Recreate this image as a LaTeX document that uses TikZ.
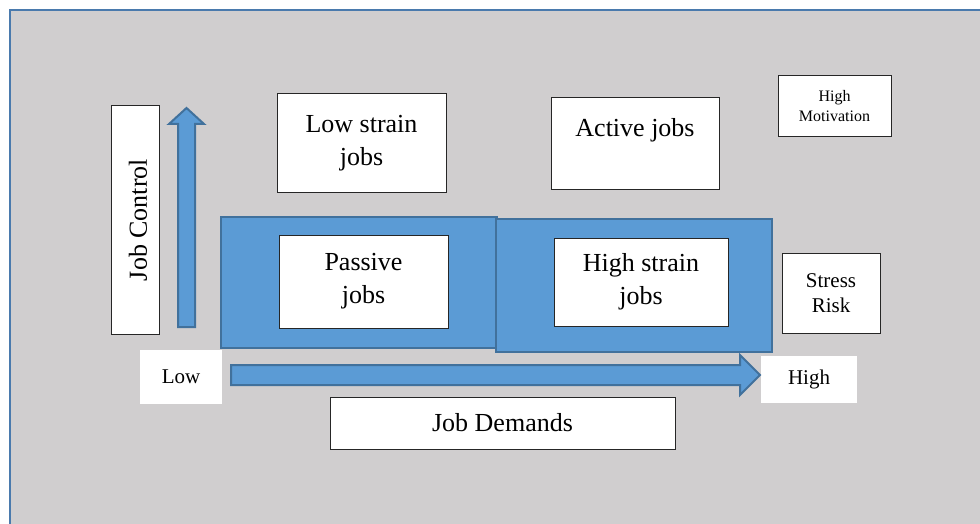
\documentclass[tikz,border=0pt]{standalone}
\usepackage{fontspec}
\setmainfont{Liberation Serif}
\definecolor{bggray}{HTML}{D0CECF}
\definecolor{frameblue}{HTML}{4A7AAD}
\definecolor{fillblue}{HTML}{5B9BD5}
\definecolor{edgeblue}{HTML}{41719C}
\tikzset{
  wbox/.style={draw=black!85, line width=1pt, fill=white, inner sep=0pt, align=center},
  plain/.style={fill=white, inner sep=0pt, align=center},
  bluebox/.style={draw=edgeblue, line width=2pt, fill=fillblue, inner sep=0pt},
  bigtxt/.style={font=\fontsize{26}{33}\selectfont},
  midtxt/.style={font=\fontsize{21}{25}\selectfont},
  smalltxt/.style={font=\fontsize{16}{20}\selectfont},
  blockarrow/.style={draw=edgeblue, line width=2pt, fill=fillblue, line join=miter}
}
\begin{document}
\begin{tikzpicture}[x=1pt,y=-1pt]
\useasboundingbox (0,0) rectangle (980,524);
\fill[white] (0,0) rectangle (980,524);
\fill[bggray] (10,10) rectangle (980,524);
\draw[frameblue, line width=2.5pt] (10,524) -- (10,10) -- (980,10);

% blue quadrant panels
\node[bluebox, minimum width=276pt, minimum height=131pt] (passpanel) at (359,282.5) {};
\node[bluebox, minimum width=276pt, minimum height=133pt] (strainpanel) at (634,285.5) {};

% Job Control box
\node[wbox, minimum width=48pt, minimum height=228pt] (jcbox) at (135,220) {};
\node[bigtxt, rotate=90] (jc) at ([xshift=3pt]jcbox.center) {Job Control};

% up arrow
\draw[blockarrow] (178,327) -- (178,124) -- (169,124) -- (186.5,108) -- (204,124) -- (195,124) -- (195,327) -- cycle;

% top boxes
\node[wbox, bigtxt, minimum width=169pt, minimum height=98pt] (lowstrain) at (361.5,143) {Low strain\\jobs};
\node[wbox, bigtxt, minimum width=168pt, minimum height=91pt] (active) at (635,143.5) {Active jobs\\\mbox{}};
\node[wbox, smalltxt, minimum width=113pt, minimum height=61pt] (motiv) at (834.5,106.5) {High\\Motivation};

% inner boxes
\node[wbox, bigtxt, minimum width=169pt, minimum height=93pt] (passive) at (363.5,281.5) {Passive\\jobs};
\node[wbox, bigtxt, minimum width=174pt, minimum height=88pt] (highstrain) at (641,282) {High strain\\jobs};
\node[wbox, midtxt, minimum width=98pt, minimum height=80pt] (stress) at (831,293) {Stress\\Risk};

% low / high labels
\node[plain, midtxt, minimum width=82pt, minimum height=54pt] (low) at (181,377) {Low};
\node[plain, midtxt, minimum width=96pt, minimum height=47pt] (high) at (809,379.5) {High};

% right arrow
\draw[blockarrow] (231,365) -- (740,365) -- (740,355) -- (760,375) -- (740,395) -- (740,385) -- (231,385) -- cycle;

% Job Demands
\node[wbox, bigtxt, minimum width=345pt, minimum height=52pt] (demands) at (502.5,423) {Job Demands};
\end{tikzpicture}
\end{document}
